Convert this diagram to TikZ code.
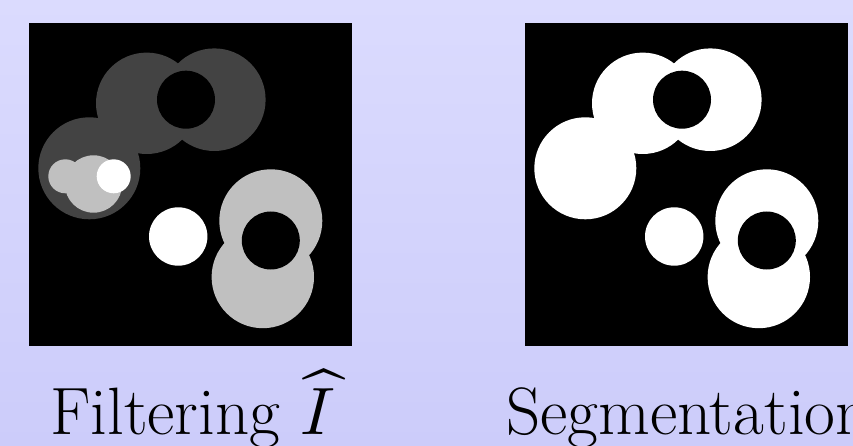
\documentclass[tikz,border=0pt]{standalone}
\usepackage{fontspec}
\usepackage{unicode-math}
\setmathfont{Latin Modern Math}
\definecolor{bgtop}{RGB}{219,219,254}
\definecolor{bgbot}{RGB}{204,204,250}
\definecolor{darkg}{RGB}{67,67,67}
\definecolor{lightg}{RGB}{192,192,192}
\newcommand{\cellfig}[3]{%
  \fill[black] (29,-23) rectangle (352,-346);
  \fill[#1] (146.7,-103.3) circle (50.7);
  \fill[#1] (214.3,-99.7) circle (51.3);
  \fill[#1] (89.3,-168.3) circle (51);
  \fill[black] (186,-99.7) circle (29);
  \fill[#2] (65.3,-176.3) circle (17);
  \fill[#2] (93.5,-184) circle (28.7);
  \fill[#3] (113.7,-176.3) circle (17);
  \fill[#3] (178.2,-236.5) circle (29.2);
  \fill[#2] (270.8,-220.8) circle (51.5);
  \fill[#2] (262.8,-277) circle (51.2);
  \fill[black] (270.8,-240.5) circle (29);
}
\begin{document}
\begin{tikzpicture}[x=1pt,y=1pt,
  caption/.style={anchor=base west,inner sep=0pt,font=\fontsize{67}{80}\selectfont}]
\useasboundingbox (0,0) rectangle (853,-446);
\clip (0,0) rectangle (853,-446);
\shade[top color=bgtop,bottom color=bgbot] (0,0) rectangle (853,-446);
\begin{scope}
  \cellfig{darkg}{lightg}{white}
\end{scope}
\begin{scope}[xshift=496pt]
  \cellfig{white}{white}{white}
\end{scope}
\node[caption] (filt) at (50,-434) {Filtering $\widehat{I\mkern3mu}$};
\node[caption] (seg) at (506,-434) {Segmentation};
\end{tikzpicture}
\end{document}
